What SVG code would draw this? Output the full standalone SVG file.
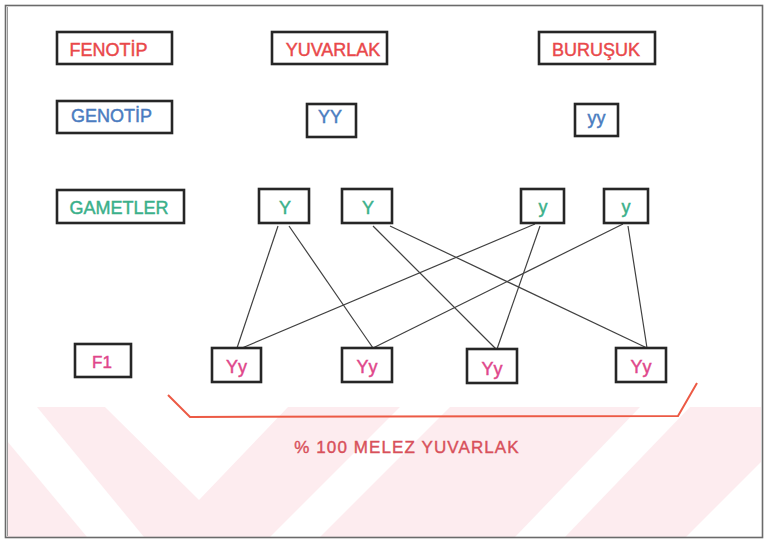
<svg xmlns="http://www.w3.org/2000/svg" width="766" height="540" viewBox="0 0 766 540">
<style>
.box{fill:#fff;stroke:#262626;stroke-width:2.6}
.t{font-family:"Liberation Sans",Arial,sans-serif;font-size:18px;text-anchor:middle;stroke-width:0.45}
.red{fill:#e9484a;stroke:#e9484a}
.blue{fill:#4a7cc0;stroke:#4a7cc0}
.green{fill:#3bb08a;stroke:#3bb08a}
.pink{fill:#e0468a;stroke:#e0468a}
.con line{stroke:#404040;stroke-width:1.2}
.wm{fill:#fdecef}
.ww{fill:#fff}
</style>
<rect x="0" y="0" width="766" height="540" fill="#fff"/>
<g id="watermark">
<rect class="wm" x="7" y="407" width="754" height="130"/>
<polygon class="ww" points="7,407 37,407 144,537 87,537 7,441"/>
<polygon class="ww" points="105,407 288,407 199,500"/>
<polygon class="ww" points="400,407 450,407 320,537 270,537"/>
<polygon class="ww" points="640,407 690,407 565,537 515,537"/>
<polygon class="ww" points="761,462 761,537 686,537"/>
</g>
<rect x="5.5" y="5.5" width="757" height="532" fill="none" stroke="#6a6a6a" stroke-width="1.6"/>
<line x1="7.5" y1="7" x2="7.5" y2="536" stroke="#9a9a9a" stroke-width="1"/>
<g class="con" id="connectors">
<line x1="278" y1="226" x2="237" y2="348"/>
<line x1="289" y1="226" x2="373" y2="348"/>
<line x1="373" y1="226" x2="496" y2="349"/>
<line x1="390" y1="226" x2="647" y2="348"/>
<line x1="535" y1="224" x2="242" y2="348"/>
<line x1="540" y1="226" x2="497" y2="349"/>
<line x1="623" y1="224" x2="373" y2="348"/>
<line x1="628" y1="226" x2="647" y2="348"/>
</g>
<g id="fenotip"><rect class="box" x="57" y="32" width="115" height="32"/><text class="t red" x="108.5" y="56">FENOTİP</text></g>
<g id="yuvarlak"><rect class="box" x="272" y="32" width="115" height="32"/><text class="t red" x="333" y="56">YUVARLAK</text></g>
<g id="burusuk"><rect class="box" x="539" y="32" width="116" height="32"/><text class="t red" x="596" y="56">BURUŞUK</text></g>
<g id="genotip"><rect class="box" x="57" y="101" width="115" height="32"/><text class="t blue" x="111.5" y="122">GENOTİP</text></g>
<g id="YY"><rect class="box" x="307" y="104" width="49" height="33"/><text class="t blue" x="330" y="123">YY</text></g>
<g id="yy"><rect class="box" x="575" y="104" width="43" height="32"/><text class="t blue" x="596.5" y="124">yy</text></g>
<g id="gametler"><rect class="box" x="57" y="190" width="127" height="33"/><text class="t green" x="119" y="214">GAMETLER</text></g>
<g id="gY1"><rect class="box" x="259" y="189" width="50" height="34"/><text class="t green" x="285" y="214">Y</text></g>
<g id="gY2"><rect class="box" x="342" y="189" width="50" height="34"/><text class="t green" x="368" y="214">Y</text></g>
<g id="gy1"><rect class="box" x="521" y="189" width="43" height="34"/><text class="t green" x="543" y="213">y</text></g>
<g id="gy2"><rect class="box" x="604" y="189" width="44" height="34"/><text class="t green" x="626" y="213">y</text></g>
<g id="F1"><rect class="box" x="75" y="344" width="56" height="33"/><text class="t pink" x="102" y="368" style="font-size:17px">F1</text></g>
<g id="Yy1"><rect class="box" x="212" y="348" width="49" height="34"/><text class="t pink" x="236.5" y="373">Yy</text></g>
<g id="Yy2"><rect class="box" x="342" y="348" width="50" height="34"/><text class="t pink" x="367" y="373">Yy</text></g>
<g id="Yy3"><rect class="box" x="467" y="349" width="50" height="34"/><text class="t pink" x="492" y="375">Yy</text></g>
<g id="Yy4"><rect class="box" x="616" y="348" width="50" height="34"/><text class="t pink" x="641" y="373">Yy</text></g>
<g id="bracket"><polyline points="168,395 190,417 678,416 697,383" fill="none" stroke="#ec5a45" stroke-width="2"/></g>
<text x="407" y="453" style="font-family:'Liberation Sans',Arial,sans-serif;font-size:17px;letter-spacing:1.1px;text-anchor:middle;fill:#d8505a;stroke:#d8505a;stroke-width:0.4">% 100 MELEZ YUVARLAK</text>
</svg>
